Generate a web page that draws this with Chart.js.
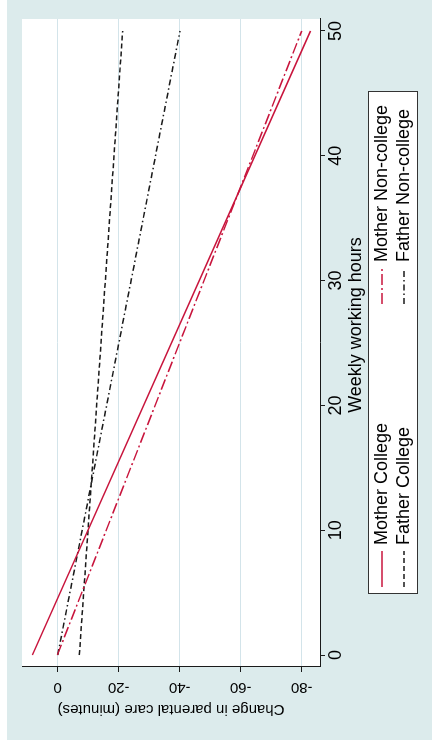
<!DOCTYPE html>
<html>
<head>
<meta charset="utf-8">
<script src="https://cdn.jsdelivr.net/npm/chart.js@4"></script>
<style>
  html, body { margin: 0; padding: 0; background: #ffffff; }
  /* el gráfico se dibuja "de pie" (740x432) y luego se gira 90° a la izquierda */
  #wrap {
    position: absolute; left: 0; top: 0;
    width: 740px; height: 432px;
    transform-origin: 0 0;
    transform: translate(0, 740px) rotate(-90deg);
  }
  #chartParentalCare {
    position: absolute; left: 0; top: 7px;
    background: #dcebec;
  }
</style>
</head>
<body>
<div id="wrap"><canvas id="chartParentalCare" width="740" height="425"></canvas></div>
<script>
// Datos
const hours = [0, 50];
const motherCollege = [8.3, -82.9];
const motherNonCollege = [0.1, -80.0];
const fatherCollege = [-7.1, -21.3];
const fatherNonCollege = [0.0, -40.1];
const xTicks = [0, 10, 20, 30, 40, 50];
const yTicks = [0, -20, -40, -60, -80];
const legendLabels = ['Mother College', 'Mother Non-college', 'Father College', 'Father Non-college'];
const xTitle = 'Weekly working hours';
const yTitle = 'Change in parental care (minutes)';

const RED = '#c8143c';
const BLACK = '#1a1a1a';
const FONT = 'Liberation Sans, Arial, sans-serif';

function points(ys) {
  return hours.map((h, i) => ({ x: h, y: ys[i] }));
}

const seriesStyles = [
  { color: RED, dash: [] },
  { color: RED, dash: [11, 3, 2, 3] },
  { color: BLACK, dash: [5, 3] },
  { color: BLACK, dash: [6, 3, 1.5, 3] }
];

// Fondo blanco de la región de trazado
const plotBackground = {
  id: 'plotBackground',
  beforeDraw(chart) {
    const { ctx, chartArea: a } = chart;
    ctx.save();
    ctx.fillStyle = '#ffffff';
    ctx.fillRect(a.left, a.top, a.right - a.left, a.bottom - a.top);
    ctx.restore();
  }
};

// Título del eje x y leyenda al estilo Stata (caja con 2 columnas)
const stataLegend = {
  id: 'stataLegend',
  afterDraw(chart) {
    const ctx = chart.ctx;
    ctx.save();
    ctx.fillStyle = '#000000';
    ctx.font = '18px ' + FONT;
    ctx.textAlign = 'center';
    ctx.textBaseline = 'middle';
    ctx.fillText(xTitle, 415, 349);

    const box = { x: 146, y: 361, w: 502, h: 49 };
    ctx.fillStyle = '#ffffff';
    ctx.fillRect(box.x, box.y, box.w, box.h);
    ctx.strokeStyle = '#333333';
    ctx.lineWidth = 1;
    ctx.strokeRect(box.x + 0.5, box.y + 0.5, box.w, box.h);
    const cols = [153, 436];
    const rows = [375, 397];
    ctx.textAlign = 'left';
    legendLabels.forEach((label, i) => {
      const cx = cols[i % 2];
      const cy = rows[Math.floor(i / 2)];
      const st = seriesStyles[i];
      ctx.strokeStyle = st.color;
      ctx.lineWidth = 1.5;
      ctx.setLineDash(st.dash);
      ctx.beginPath();
      ctx.moveTo(cx, cy);
      ctx.lineTo(cx + 36, cy);
      ctx.stroke();
      ctx.setLineDash([]);
      ctx.fillStyle = '#000000';
      ctx.fillText(label, cx + 42, cy);
    });
    ctx.restore();
  }
};

const ctx = document.getElementById('chartParentalCare').getContext('2d');
new Chart(ctx, {
  type: 'line',
  data: {
    datasets: [motherCollege, motherNonCollege, fatherCollege, fatherNonCollege].map((ys, i) => ({
      label: legendLabels[i],
      data: points(ys),
      borderColor: seriesStyles[i].color,
      borderDash: seriesStyles[i].dash,
      borderWidth: 1.5,
      pointRadius: 0,
      fill: false,
      tension: 0
    }))
  },
  options: {
    responsive: false,
    animation: false,
    layout: { padding: { top: 15, right: 19, left: 0, bottom: 67 } },
    plugins: { legend: { display: false }, tooltip: { enabled: false } },
    scales: {
      x: {
        type: 'linear',
        position: 'bottom',
        min: -0.96,
        max: 50.96,
        afterBuildTicks: s => { s.ticks = xTicks.map(v => ({ value: v })); },
        afterFit: s => { s.height = 45; },
        grid: { drawOnChartArea: false, drawTicks: true, tickLength: 5, tickColor: BLACK },
        border: { color: BLACK, width: 1 },
        ticks: { color: '#000', font: { family: FONT, size: 18 }, padding: 0, maxRotation: 0 },
        title: { display: false }
      },
      y: {
        type: 'linear',
        min: -86,
        max: 11.7,
        afterBuildTicks: s => { s.ticks = yTicks.map(v => ({ value: v })); },
        afterFit: s => { s.width = 73; },
        grid: { color: '#d3e4ea', lineWidth: 1, drawTicks: true, tickLength: 5, tickColor: BLACK },
        border: { color: BLACK, width: 1 },
        ticks: {
          color: '#000', font: { family: FONT, size: 15 }, padding: 4,
          minRotation: 90, maxRotation: 90, crossAlign: 'center',
          callback: v => String(v)
        },
        title: { display: true, text: yTitle, color: '#000', font: { family: FONT, size: 15 }, padding: { top: 22 } }
      }
    }
  },
  plugins: [plotBackground, stataLegend]
});
</script>
</body>
</html>
